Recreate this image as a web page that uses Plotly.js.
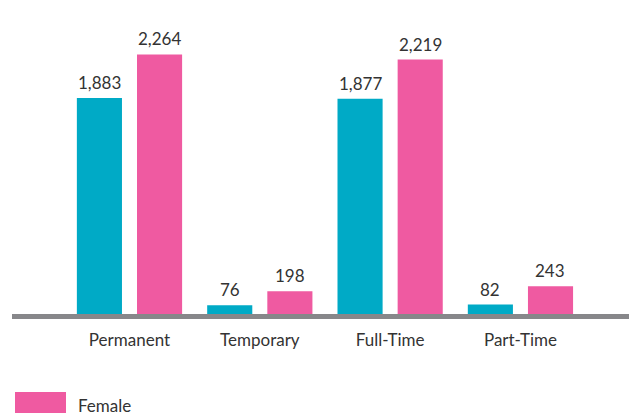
<!DOCTYPE html>
<html>
<head>
<meta charset="utf-8">
<script src="https://cdn.plot.ly/plotly-3.0.1.min.js"></script>
<style>html,body{margin:0;padding:0;background:#fff;}#chart{width:629px;height:416px;}</style>
</head>
<body>
<div id="chart"></div>
<script>
var categories = ["Permanent", "Temporary", "Full-Time", "Part-Time"];
var maleValues = [1883, 76, 1877, 82];
var femaleValues = [2264, 198, 2219, 243];
var seriesNames = ["Male", "Female"];

var fontFam = "Lato, 'Open Sans', sans-serif";
var txtColor = "#333333";
function fmt(v){ return v.toLocaleString("en-US"); }

var traces = [
  {type: "bar", name: seriesNames[0], x: categories, y: maleValues,
   marker: {color: "#00AAC6"}, hoverinfo: "skip", showlegend: false},
  {type: "bar", name: seriesNames[1], x: categories, y: femaleValues,
   marker: {color: "#EF5AA1"}, hoverinfo: "skip", showlegend: false}
];

var annotations = [];
[maleValues, femaleValues].forEach(function(vals, s){
  vals.forEach(function(v, i){
    annotations.push({xref: "x", yref: "y", x: categories[i], y: v, xshift: s === 0 ? -30 : 30, yshift: 3,
      xanchor: "center", yanchor: "bottom", showarrow: false, text: fmt(v),
      font: {family: fontFam, size: 17, color: txtColor}});
  });
});
annotations.push({xref: "paper", yref: "paper", x: 64/617, y: -(405-314)/294, xanchor: "left", yanchor: "middle",
  text: seriesNames[1], showarrow: false, font: {family: fontFam, size: 17, color: txtColor}});

var layout = {
  width: 629, height: 416,
  margin: {l: 12, r: 0, t: 20, b: 102},
  paper_bgcolor: "#ffffff", plot_bgcolor: "#ffffff",
  barmode: "group", bargap: 0.077, bargroupgap: 0.25,
  showlegend: false,
  font: {family: fontFam, size: 17, color: txtColor},
  xaxis: {type: "category", range: [-0.9015, 3.833], showline: true, linecolor: "#87878a", linewidth: 5,
          ticks: "", ticklabelstandoff: 7, showgrid: false, zeroline: false, fixedrange: true,
          tickfont: {family: fontFam, size: 17, color: txtColor}},
  yaxis: {range: [0, 2564], visible: false, showgrid: false, zeroline: false, fixedrange: true},
  shapes: [
    {type: "rect", xref: "paper", yref: "paper", x0: 3/617, x1: 54/617, y0: -(392-314)/294, y1: -(413-314)/294,
     fillcolor: "#EF5AA1", line: {width: 0}}
  ],
  annotations: annotations
};

Plotly.newPlot("chart", traces, layout, {staticPlot: true, displayModeBar: false});
</script>
</body>
</html>
